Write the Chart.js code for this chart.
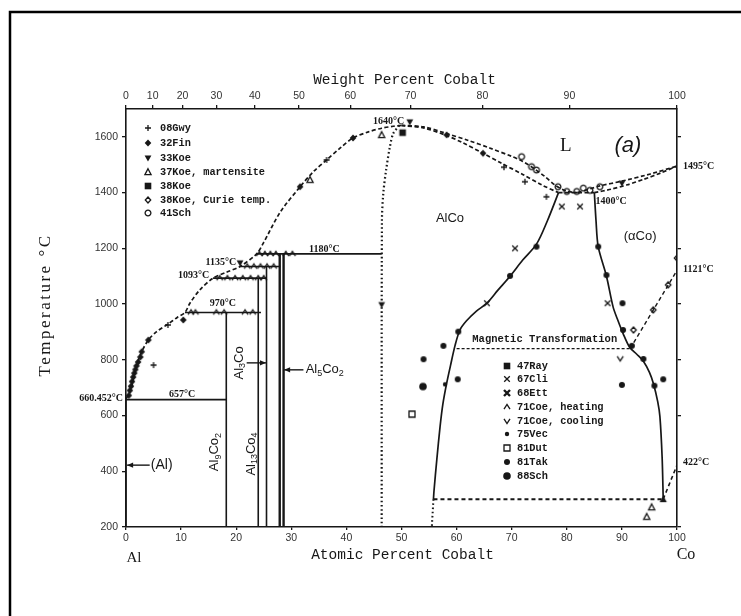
<!DOCTYPE html>
<html>
<head>
<meta charset="utf-8">
<script src="https://cdn.jsdelivr.net/npm/chart.js@4.4.1/dist/chart.umd.min.js"></script>
<style>
  html, body { margin: 0; padding: 0; background: #fff; }
  canvas { display: block; }
</style>
</head>
<body>
<canvas id="c" width="741" height="616"></canvas>
<script>
// ---- Al–Co phase diagram: axes ----
const atomicTicks = [0, 10, 20, 30, 40, 50, 60, 70, 80, 90, 100];
const weightTicks = [0, 10, 20, 30, 40, 50, 60, 70, 80, 90, 100];
const tempTicks = [200, 400, 600, 800, 1000, 1200, 1400, 1600];

// ---- phase boundaries (atomic % Co, °C) ----
const liqAlX = [0, 0.8, 1.5, 2.1, 2.85, 4.05, 5.5, 7.6, 9.3, 10.7, 11.6, 13.4, 15.8, 18.2, 20.7, 23.7, 24.9, 28, 31.6, 34, 36.4, 39, 41.2, 44, 46.4, 48.5, 50];
const liqAlT = [660, 690, 745, 790, 829, 871, 900, 928, 952, 970, 1003, 1051, 1093, 1114, 1135, 1180, 1218, 1330, 1421, 1475, 1517, 1562, 1596, 1618, 1631, 1638, 1641];

const liqCoX = [50, 54, 58, 62, 66, 70, 72, 74, 76, 78, 80, 82];
const liqCoT = [1641, 1636, 1613, 1588, 1560, 1530, 1512, 1487, 1458, 1425, 1405, 1400];
const solCoX = [50, 54, 58, 61, 64.8, 68, 72, 75.5, 78.5];
const solCoT = [1641, 1632, 1606, 1580, 1541, 1507, 1465, 1427, 1400];

const eutX = [78.5, 85];
const eutT = [1400, 1400];

const liqRightX = [82, 86, 90, 95, 100];
const liqRightT = [1400, 1424, 1441, 1466, 1495];
const solRightX = [85, 88, 91, 94, 97, 100];
const solRightT = [1400, 1412, 1428, 1448, 1470, 1495];

const alcoLeftX = [49.6, 48.5, 47.9, 47.2, 46.7, 46.45, 46.4];
const alcoLeftT = [1641, 1612, 1565, 1480, 1398, 1300, 200];

const alcoRightX = [78.5, 76.5, 74.5, 72, 69.7, 67.5, 65.5, 63.6, 61.8, 60.6, 59.7, 58.9, 58.2, 57.5, 57.0, 56.4, 55.9, 55.8];
const alcoRightT = [1400, 1300, 1215, 1158, 1100, 1050, 1003, 975, 940, 907, 850, 780, 716, 640, 560, 440, 330, 300];

const coSolvusX = [85, 85.3, 85.7, 87.2, 88.4, 89.3, 90.2, 91.4, 92.7, 93.9, 95.0, 95.7, 96.5, 96.9, 97.3, 97.5];
const coSolvusT = [1400, 1300, 1206, 1100, 990, 940, 895, 845, 820, 795, 755, 716, 650, 596, 450, 300];

const curieX = [91.5, 100];
const curieT = [840, 1121];
const magX = [60, 91.5];
const magT = [840, 840];

const lowX = [55.8, 97.5];
const lowT = [300, 300];
const hcpX = [97.5, 100];
const hcpT = [300, 422];
const lowDotX = [55.8, 55.5];
const lowDotT = [300, 200];

// solid invariant and compound lines
const solidSegs = [
  { x: [0, 0],       t: [200, 660] },   // (Al) edge
  { x: [0, 18.2],    t: [657, 657] },
  { x: [18.2, 18.2], t: [200, 970] },   // Al9Co2
  { x: [10.7, 24.5], t: [970, 970] },
  { x: [24.0, 24.0], t: [200, 1093] },  // Al13Co4
  { x: [15.8, 25.5], t: [1093, 1093] },
  { x: [25.5, 25.5], t: [200, 1135] },  // Al3Co
  { x: [20.7, 28.0], t: [1135, 1135] },
  { x: [23.7, 46.4], t: [1180, 1180] },
  { x: [100, 100],   t: [1121, 1495] }  // Co edge
];
const al5co2X = [[27.9, 27.9], [28.6, 28.6]];
const al5co2T = [200, 1180];

// ---- measurements ----
const gwy08X = [5.0, 7.6, 36.4, 68.6, 72.4, 76.3];
const gwy08T = [781, 925, 1517, 1491, 1439, 1385];
const fin32X = [0.5, 0.7, 0.9, 1.1, 1.3, 1.5, 1.7, 1.9, 2.2, 2.6, 2.85, 4.05, 10.4, 31.6, 41.2, 58.2, 64.8];
const fin32T = [672, 690, 705, 722, 738, 752, 765, 778, 792, 810, 829, 871, 943, 1421, 1596, 1607, 1541];
const koe33X = [20.7, 51.5, 46.4, 90.0];
const koe33T = [1148, 1654, 998, 1434];
const koe37X = [33.4, 46.4, 94.5, 95.4];
const koe37T = [1446, 1607, 237, 271];
const koe38X = [50.2];
const koe38T = [1615];
const koe38cX = [92.1, 95.7, 98.4, 100];
const koe38cT = [907, 979, 1069, 1165];
const sch41X = [71.8, 73.6, 74.5, 78.4, 80.0, 81.8, 83.0, 84.2, 86.0];
const sch41T = [1529, 1493, 1481, 1421, 1404, 1404, 1416, 1408, 1421];
const ray47X = [];
const ray47T = [];
const cli67X = [65.5, 70.6, 79.1, 82.4, 87.4];
const cli67T = [1003, 1200, 1350, 1350, 1003];
const ett68X = [];
const ett68T = [];
const coe71hX = [11.8, 12.6, 16.4, 17.8, 21.6, 23.0, 17.0, 18.4, 19.8, 21.2, 22.6, 24.0, 25.0, 22.0, 23.2, 24.4, 25.6, 26.8, 24.2, 25.2, 26.2, 27.2, 29.0, 30.2];
const coe71hT = [970, 970, 970, 970, 970, 970, 1093, 1093, 1093, 1093, 1093, 1093, 1093, 1135, 1135, 1135, 1135, 1135, 1180, 1180, 1180, 1180, 1180, 1180];
const coe71cX = [89.7];
const coe71cT = [805];
const vec75X = [57.9];
const vec75T = [712];
const dut81X = [51.9];
const dut81T = [605];
const tak81X = [54.0, 57.6, 60.3, 60.2, 69.7, 74.5, 85.7, 87.2, 90.1, 90.2, 91.8, 93.9, 90.0, 97.5, 95.9];
const tak81T = [802, 850, 901, 730, 1101, 1206, 1206, 1104, 1003, 907, 850, 803, 710, 730, 707];
const sch88X = [53.9];
const sch88T = [704];
const eutectoidX = [97.5];
const eutectoidT = [300];

const INK = '#171717';

const pts = (xs, ts) => xs.map((x, i) => ({ x: x, y: ts[i] }));
const wtToAt = w => {
  if (w <= 0) return 0;
  if (w >= 100) return 100;
  const co = w / 58.933, al = (100 - w) / 26.982;
  return 100 * co / (co + al);
};

// small marker glyphs
function mk(kind) {
  const s = 12, c = document.createElement('canvas');
  c.width = s; c.height = s;
  const g = c.getContext('2d');
  g.translate(s / 2, s / 2);
  g.strokeStyle = INK; g.fillStyle = INK; g.lineWidth = 1.3;
  g.beginPath();
  switch (kind) {
    case 'plus': g.moveTo(-3, 0); g.lineTo(3, 0); g.moveTo(0, -3); g.lineTo(0, 3); g.stroke(); break;
    case 'diamond': g.moveTo(0, -3.6); g.lineTo(3.3, 0); g.lineTo(0, 3.6); g.lineTo(-3.3, 0); g.closePath(); g.fill(); break;
    case 'triDown': g.moveTo(-3.4, -2.6); g.lineTo(3.4, -2.6); g.lineTo(0, 3.4); g.closePath(); g.fill(); break;
    case 'triOpen': g.moveTo(0, -3.3); g.lineTo(3.1, 2.7); g.lineTo(-3.1, 2.7); g.closePath(); g.stroke(); break;
    case 'triFill': g.moveTo(0, -3.6); g.lineTo(3.6, 3); g.lineTo(-3.6, 3); g.closePath(); g.fill(); break;
    case 'square': g.rect(-3.3, -3.3, 6.6, 6.6); g.fill(); break;
    case 'squareOpen': g.rect(-3, -3, 6, 6); g.stroke(); break;
    case 'diamondOpen': g.moveTo(0, -3); g.lineTo(2.7, 0); g.lineTo(0, 3); g.lineTo(-2.7, 0); g.closePath(); g.stroke(); break;
    case 'circleOpen': g.arc(0, 0, 2.9, 0, Math.PI * 2); g.stroke(); break;
    case 'x': g.moveTo(-2.8, -2.8); g.lineTo(2.8, 2.8); g.moveTo(2.8, -2.8); g.lineTo(-2.8, 2.8); g.stroke(); break;
    case 'bowtie': g.lineWidth = 2.4; g.moveTo(-3, -3); g.lineTo(3, 3); g.moveTo(3, -3); g.lineTo(-3, 3); g.stroke(); break;
    case 'caret': g.moveTo(-3, 2.2); g.lineTo(0, -2.6); g.lineTo(3, 2.2); g.stroke(); break;
    case 'vee': g.moveTo(-3, -2.2); g.lineTo(0, 2.6); g.lineTo(3, -2.2); g.stroke(); break;
    case 'dotS': g.arc(0, 0, 2.2, 0, Math.PI * 2); g.fill(); break;
    case 'dot': g.arc(0, 0, 3, 0, Math.PI * 2); g.fill(); break;
    case 'dotB': g.arc(0, 0, 3.8, 0, Math.PI * 2); g.fill(); break;
  }
  return c;
}

const M = {};
['plus', 'diamond', 'triDown', 'triOpen', 'triFill', 'square', 'squareOpen', 'diamondOpen', 'circleOpen',
 'x', 'bowtie', 'caret', 'vee', 'dotS', 'dot', 'dotB'].forEach(k => { M[k] = mk(k); });

function lineDs(xs, ts, opt) {
  opt = opt || {};
  return {
    data: pts(xs, ts), showLine: true, pointRadius: 0, pointHoverRadius: 0,
    borderColor: INK, borderWidth: opt.width || 1.6, borderDash: opt.dash || [],
    tension: opt.tension || 0, fill: false, order: 2
  };
}
function markDs(label, xs, ts, glyph) {
  return {
    label: label, data: pts(xs, ts), showLine: false, pointStyle: M[glyph],
    pointRadius: 5, pointHoverRadius: 5, order: 0, glyph: glyph
  };
}

const DASH = [4, 2.5];
const datasets = [
  lineDs(liqAlX, liqAlT, { dash: DASH, width: 1.7, tension: 0.3 }),
  lineDs(liqCoX, liqCoT, { dash: DASH, width: 1.7, tension: 0.3 }),
  lineDs(solCoX, solCoT, { dash: DASH, width: 1.7, tension: 0.3 }),
  lineDs(eutX, eutT, { dash: DASH, width: 1.7 }),
  lineDs(liqRightX, liqRightT, { dash: DASH, width: 1.7, tension: 0.2 }),
  lineDs(solRightX, solRightT, { dash: DASH, width: 1.7, tension: 0.2 }),
  lineDs(alcoLeftX, alcoLeftT, { dash: [1.6, 2.6], width: 2.2, tension: 0.3 }),
  lineDs(alcoRightX, alcoRightT, { width: 1.7, tension: 0.3 }),
  lineDs(coSolvusX, coSolvusT, { width: 1.7, tension: 0.3 }),
  lineDs(curieX, curieT, { dash: [4, 3], width: 1.4 }),
  lineDs(magX, magT, { dash: [3, 2], width: 1.4 }),
  lineDs(lowX, lowT, { dash: [4, 3], width: 2 }),
  lineDs(hcpX, hcpT, { dash: [4, 3], width: 1.6 }),
  lineDs(lowDotX, lowDotT, { dash: [1.6, 2.6], width: 2 })
];
solidSegs.forEach(s => datasets.push(lineDs(s.x, s.t, { width: 1.6 })));
al5co2X.forEach(xs => datasets.push(lineDs(xs, al5co2T, { width: 2.4 })));

const legendA = [
  markDs('08Gwy', gwy08X, gwy08T, 'plus'),
  markDs('32Fin', fin32X, fin32T, 'diamond'),
  markDs('33Koe', koe33X, koe33T, 'triDown'),
  markDs('37Koe, martensite', koe37X, koe37T, 'triOpen'),
  markDs('38Koe', koe38X, koe38T, 'square'),
  markDs('38Koe, Curie temp.', koe38cX, koe38cT, 'diamondOpen'),
  markDs('41Sch', sch41X, sch41T, 'circleOpen')
];
const legendB = [
  markDs('47Ray', ray47X, ray47T, 'square'),
  markDs('67Cli', cli67X, cli67T, 'x'),
  markDs('68Ett', ett68X, ett68T, 'bowtie'),
  markDs('71Coe, heating', coe71hX, coe71hT, 'caret'),
  markDs('71Coe, cooling', coe71cX, coe71cT, 'vee'),
  markDs('75Vec', vec75X, vec75T, 'dotS'),
  markDs('81Dut', dut81X, dut81T, 'squareOpen'),
  markDs('81Tak', tak81X, tak81T, 'dot'),
  markDs('88Sch', sch88X, sch88T, 'dotB')
];
legendA.concat(legendB).forEach(d => datasets.push(d));
datasets.push(markDs('', eutectoidX, eutectoidT, 'triFill'));

// ---- text helpers ----
function txt(ctx, s, x, y, font, align, base) {
  ctx.font = font;
  ctx.textAlign = align || 'center';
  ctx.textBaseline = base || 'middle';
  ctx.fillStyle = INK;
  ctx.fillText(s, x, y);
}
// formula with subscripts, e.g. [['Al',0],['9',1],['Co',0],['2',1]]
function formula(ctx, parts, x, y, size, rot, align) {
  ctx.save();
  ctx.translate(x, y);
  ctx.rotate(rot || 0);
  const big = size + 'px "Liberation Sans"', small = Math.round(size * 0.72) + 'px "Liberation Sans"';
  let total = 0;
  parts.forEach(p => { ctx.font = p[1] ? small : big; total += ctx.measureText(p[0]).width; });
  let cx = align === 'left' ? 0 : -total / 2;
  ctx.textAlign = 'left';
  ctx.textBaseline = 'middle';
  ctx.fillStyle = INK;
  parts.forEach(p => {
    ctx.font = p[1] ? small : big;
    ctx.fillText(p[0], cx, p[1] ? size * 0.3 : 0);
    cx += ctx.measureText(p[0]).width;
  });
  ctx.restore();
}
function arrow(ctx, x0, y0, x1, y1) {
  ctx.save();
  ctx.strokeStyle = INK; ctx.fillStyle = INK; ctx.lineWidth = 1.4;
  ctx.beginPath(); ctx.moveTo(x0, y0); ctx.lineTo(x1, y1); ctx.stroke();
  const a = Math.atan2(y1 - y0, x1 - x0), L = 6, W = 2.6;
  ctx.beginPath();
  ctx.moveTo(x1, y1);
  ctx.lineTo(x1 - L * Math.cos(a) + W * Math.sin(a), y1 - L * Math.sin(a) - W * Math.cos(a));
  ctx.lineTo(x1 - L * Math.cos(a) - W * Math.sin(a), y1 - L * Math.sin(a) + W * Math.cos(a));
  ctx.closePath(); ctx.fill();
  ctx.restore();
}

const pagePlugin = {
  id: 'page',
  beforeDraw(chart) {
    const ctx = chart.ctx;
    ctx.save();
    ctx.fillStyle = '#fff';
    ctx.fillRect(0, 0, chart.width, chart.height);
    ctx.strokeStyle = '#000';
    ctx.lineWidth = 2.5;
    ctx.beginPath();
    ctx.moveTo(10, 616); ctx.lineTo(10, 12); ctx.lineTo(741, 12);
    ctx.stroke();
    ctx.restore();
  },
  afterDraw(chart) {
    const ctx = chart.ctx, X = chart.scales.x, Y = chart.scales.y, A = chart.chartArea;
    const px = v => X.getPixelForValue(v), py = v => Y.getPixelForValue(v);
    ctx.save();

    // axis titles
    const mono = '"Liberation Mono", "DejaVu Sans Mono", monospace';
    txt(ctx, 'Weight Percent Cobalt', (A.left + A.right) / 2 + 3, A.top - 29, '14.5px ' + mono);
    txt(ctx, 'Atomic Percent Cobalt', (A.left + A.right) / 2 + 1, A.bottom + 28, '14.5px ' + mono);
    txt(ctx, 'Al', A.left + 8, A.bottom + 31, '15px "Liberation Serif"');
    txt(ctx, 'Co', A.right + 9, A.bottom + 28, '16px "Liberation Serif"');
    ctx.save();
    ctx.translate(46, 305);
    ctx.rotate(-Math.PI / 2);
    ctx.letterSpacing = '2.5px';
    txt(ctx, 'Temperature °C', 0, 0, '17px "Liberation Serif"');
    ctx.letterSpacing = '0px';
    ctx.restore();

    // invariant temperatures
    const tf = 'bold 10px "Liberation Serif"';
    txt(ctx, '1640°C', px(50.5), py(1654), tf, 'right');
    txt(ctx, '1180°C', px(36.0), py(1197), tf);
    txt(ctx, '1135°C', px(20.0), py(1149), tf, 'right');
    txt(ctx, '1093°C', px(15.1), py(1104), tf, 'right');
    txt(ctx, '970°C', px(17.6), py(1004), tf);
    txt(ctx, '657°C', px(10.2), py(676), tf);
    txt(ctx, '660.452°C', A.left - 3, py(660), tf, 'right');
    txt(ctx, '1400°C', px(85.2), py(1367), tf, 'left');
    txt(ctx, '1495°C', A.right + 6, py(1495), tf, 'left');
    txt(ctx, '1121°C', A.right + 6, py(1126), tf, 'left');
    txt(ctx, '422°C', A.right + 6, py(430), tf, 'left');

    // phase fields
    txt(ctx, 'L', px(79.8), py(1568), '19px "Liberation Serif"');
    txt(ctx, '(a)', px(91.1), py(1567), 'italic 22px "Liberation Sans"');
    txt(ctx, 'AlCo', px(58.8), py(1309), '13px "Liberation Sans"');
    txt(ctx, '(αCo)', px(93.3), py(1241), '13px "Liberation Sans"');
    txt(ctx, 'Magnetic Transformation', px(76.0), py(873), 'bold 10.5px ' + mono);

    // compounds
    formula(ctx, [['Al', 0], ['9', 1], ['Co', 0], ['2', 1]], px(16.1), py(469), 13, -Math.PI / 2);
    formula(ctx, [['Al', 0], ['13', 1], ['Co', 0], ['4', 1]], px(22.7), py(462), 13, -Math.PI / 2);
    formula(ctx, [['Al', 0], ['3', 1], ['Co', 0]], px(20.5), py(789), 13, -Math.PI / 2);
    arrow(ctx, px(21.9), py(789), px(25.4), py(789));
    formula(ctx, [['Al', 0], ['5', 1], ['Co', 0], ['2', 1]], px(32.6), py(764), 13, 0, 'left');
    arrow(ctx, px(32.2), py(764), px(28.7), py(764));
    arrow(ctx, px(4.3), py(422), px(0.2), py(422));
    txt(ctx, '(Al)', px(4.5), py(422), '14px "Liberation Sans"', 'left');

    // legends
    const lf = 'bold 10.3px ' + mono;
    const rowsA = [128, 143, 158, 172, 186, 200, 213];
    legendA.forEach((d, i) => {
      const img = M[d.glyph];
      ctx.drawImage(img, 148 - img.width / 2, rowsA[i] - img.height / 2);
      txt(ctx, d.label, 160, rowsA[i], lf, 'left');
    });
    const rowsB = [366, 379, 393, 407, 421, 434, 448, 462, 476];
    legendB.forEach((d, i) => {
      const img = M[d.glyph];
      ctx.drawImage(img, 507 - img.width / 2, rowsB[i] - img.height / 2);
      txt(ctx, d.label, 517, rowsB[i], lf, 'left');
    });
    ctx.restore();
  }
};

const tickFont = { family: '"Liberation Sans", Arial, sans-serif', size: 10.5 };
const axisBorder = { display: true, color: INK, width: 1.6, dash: [2, 2] };
const axisGrid = { drawOnChartArea: false, drawTicks: true, tickLength: 4, color: INK, lineWidth: 1.3 };
const plain = v => String(v);

new Chart(document.getElementById('c'), {
  type: 'scatter',
  data: { datasets: datasets },
  plugins: [pagePlugin],
  options: {
    responsive: false,
    animation: false,
    devicePixelRatio: 1,
    layout: { padding: { left: 0, right: 64, top: 0, bottom: 0 } },
    plugins: { legend: { display: false }, tooltip: { enabled: false }, title: { display: false } },
    scales: {
      x: {
        type: 'linear', position: 'bottom', min: 0, max: 100,
        afterBuildTicks: s => { s.ticks = atomicTicks.map(v => ({ value: v })); },
        afterFit: s => { s.height = 89; },
        ticks: { font: tickFont, color: '#333', padding: 2, maxRotation: 0, autoSkip: false, callback: plain },
        grid: Object.assign({}, axisGrid, { tickLength: 3 }), border: axisBorder
      },
      x2: {
        type: 'linear', position: 'top', min: 0, max: 100,
        afterBuildTicks: s => { s.ticks = weightTicks.map(w => ({ value: wtToAt(w) })); },
        afterFit: s => { s.height = 109; },
        ticks: { font: tickFont, color: '#333', padding: 3, maxRotation: 0, autoSkip: false,
                 callback: (v, i) => String(weightTicks[i]) },
        grid: axisGrid, border: axisBorder
      },
      y: {
        type: 'linear', position: 'left', min: 200, max: 1700,
        afterBuildTicks: s => { s.ticks = tempTicks.map(v => ({ value: v })); },
        afterFit: s => { s.width = 126; },
        ticks: { font: tickFont, color: '#333', padding: 4, autoSkip: false, callback: plain },
        grid: axisGrid, border: axisBorder
      },
      y2: {
        type: 'linear', position: 'right', min: 200, max: 1700,
        afterBuildTicks: s => { s.ticks = tempTicks.map(v => ({ value: v })); },
        afterFit: s => { s.width = 0; },
        ticks: { display: false },
        grid: axisGrid, border: axisBorder
      }
    }
  }
});
</script>
</body>
</html>
